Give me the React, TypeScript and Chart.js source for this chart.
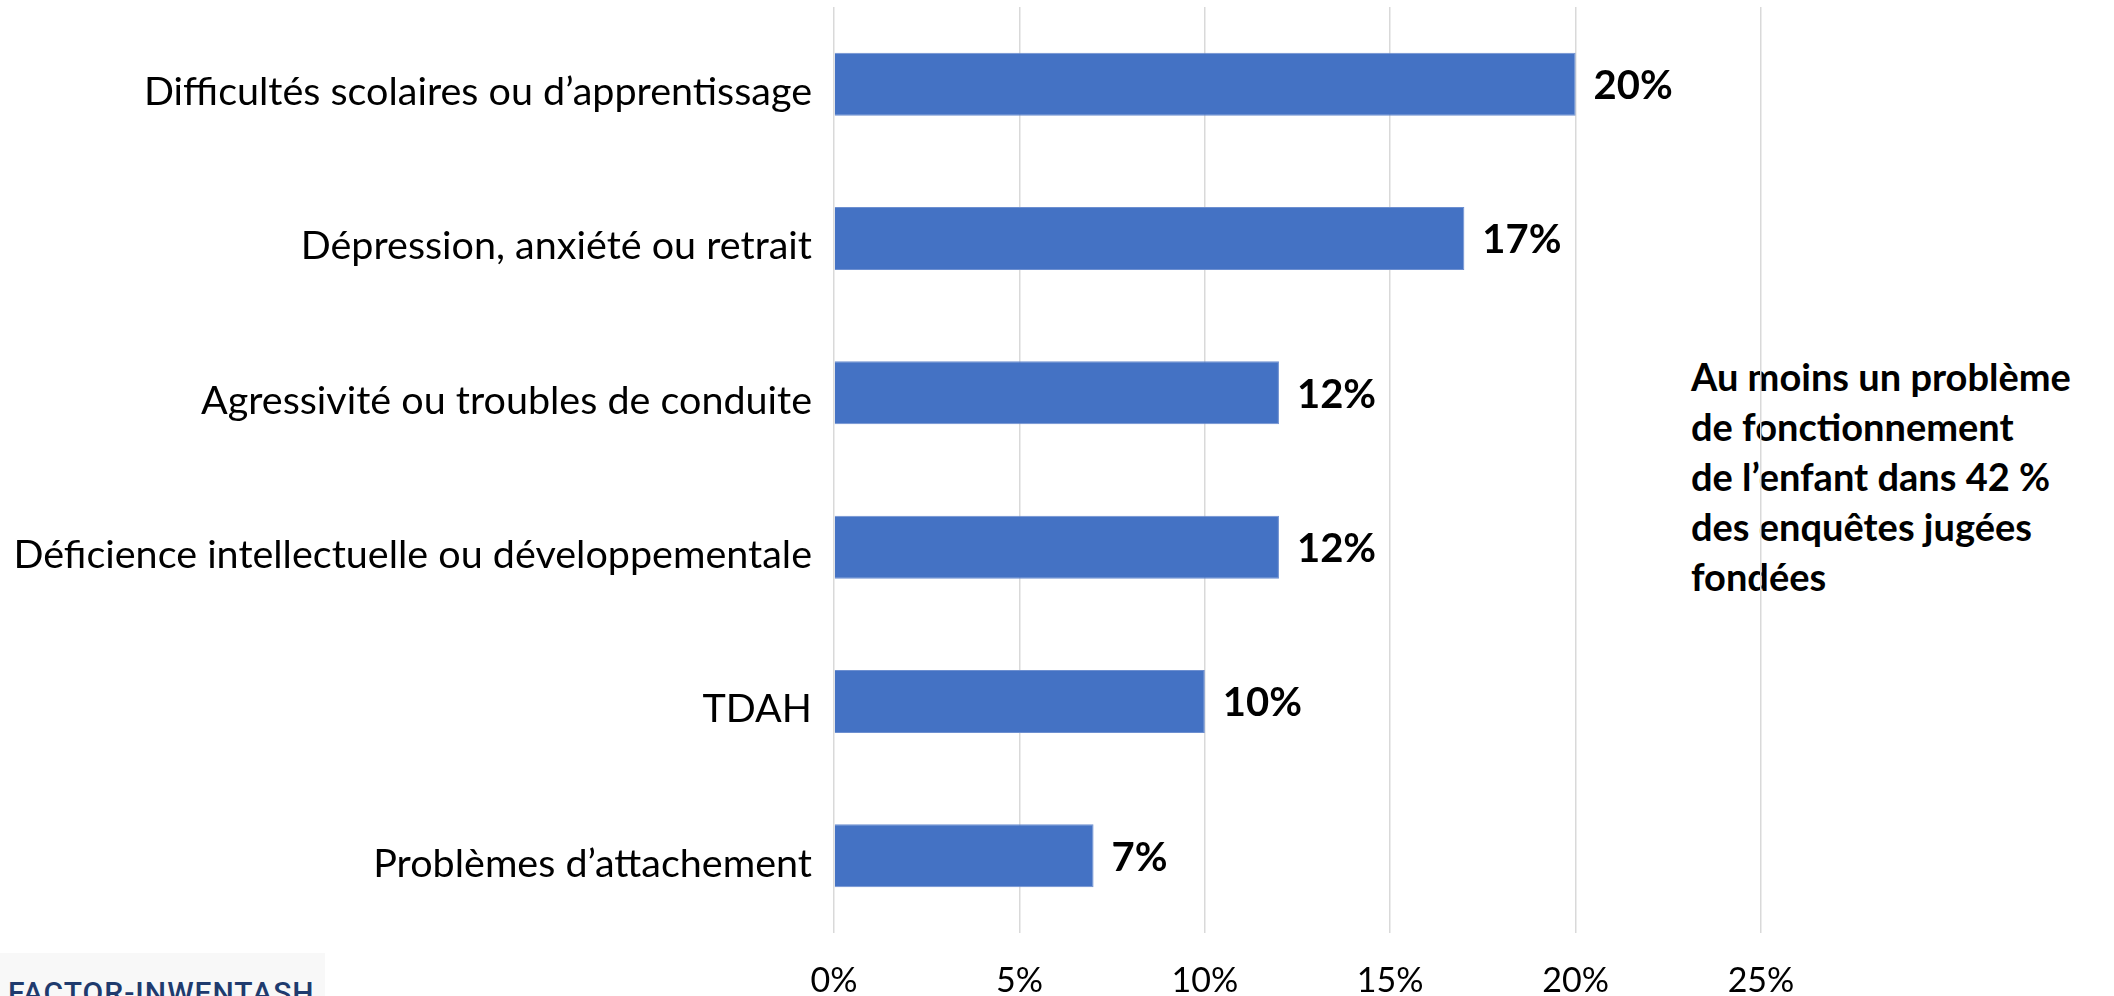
import React, { useEffect, useRef } from "react";
import { Chart, registerables } from "chart.js";

Chart.register(...registerables);

const categories = [
  "Difficultés scolaires ou d’apprentissage",
  "Dépression, anxiété ou retrait",
  "Agressivité ou troubles de conduite",
  "Déficience intellectuelle ou développementale",
  "TDAH",
  "Problèmes d’attachement",
];
const values = [20, 17, 12, 12, 10, 7];
const xTicks = [0, 5, 10, 15, 20, 25];
const annotationLines = [
  "Au moins un problème",
  "de fonctionnement",
  "de l’enfant dans 42 %",
  "des enquêtes jugées",
  "fondées",
];
const logoText = "FACTOR-INWENTASH";

const FONT = "Lato, 'Noto Sans', sans-serif";

const valueLabels = {
  id: "valueLabels",
  afterDatasetsDraw(chart: any) {
    const ctx = chart.ctx;
    const meta = chart.getDatasetMeta(0);
    ctx.save();
    ctx.font = `bold 40px ${FONT}`;
    ctx.fillStyle = "#000";
    ctx.textAlign = "left";
    ctx.textBaseline = "middle";
    meta.data.forEach((bar: any, i: number) => {
      ctx.fillText(`${values[i]}%`, bar.x + 18, bar.y + 2);
    });
    ctx.restore();
  },
};

export default function App() {
  const ref = useRef<HTMLCanvasElement | null>(null);
  useEffect(() => {
    if (!ref.current) return;
    const chart = new Chart(ref.current, {
      type: "bar",
      data: {
        labels: categories,
        datasets: [
          {
            data: values,
            backgroundColor: "#4472C4",
            borderColor: "#6d8fd0",
            borderWidth: 1,
            categoryPercentage: 1,
            barPercentage: 0.408,
          },
        ],
      },
      options: {
        indexAxis: "y",
        animation: false,
        responsive: true,
        maintainAspectRatio: false,
        layout: { padding: { top: 7, right: 353, left: 0, bottom: 0 } },
        plugins: {
          legend: { display: false },
          tooltip: { enabled: false },
        },
        scales: {
          x: {
            min: 0,
            max: 25,
            afterBuildTicks: (scale: any) => {
              scale.ticks = xTicks.map((v) => ({ value: v }));
            },
            afterFit: (scale: any) => {
              scale.height = 63;
            },
            grid: { color: "#d9d9d9", lineWidth: 1.5, drawTicks: false },
            border: { display: false },
            ticks: {
              padding: 28,
              color: "#000",
              font: { family: FONT, size: 34 },
              callback: (v: any) => `${v}%`,
            },
          },
          y: {
            afterFit: (scale: any) => {
              scale.width = 834;
              scale.paddingTop = 0;
              scale.paddingBottom = 0;
            },
            grid: { display: false, drawTicks: false },
            border: { display: false },
            ticks: {
              padding: 22,
              labelOffset: 8,
              color: "#000",
              font: { family: FONT, size: 39.5 },
            },
          },
        },
      },
      plugins: [valueLabels],
    });
    return () => chart.destroy();
  }, []);

  return (
    <div
      style={{
        position: "fixed",
        left: 0,
        top: 0,
        width: 2114,
        height: 996,
        background: "#fff",
        overflow: "hidden",
      }}
    >
      <div
        style={{
          position: "absolute",
          left: 1691,
          top: 351,
          fontFamily: FONT,
          fontWeight: 700,
          fontSize: 38,
          lineHeight: "50px",
          color: "#000",
          whiteSpace: "nowrap",
        }}
      >
        {annotationLines.map((l, i) => (
          <div key={i}>{l}</div>
        ))}
      </div>
      <div
        style={{
          position: "absolute",
          left: 0,
          top: 953,
          width: 325,
          height: 43,
          background: "#f8f8f8",
          overflow: "hidden",
        }}
      >
        <div
          style={{
            position: "absolute",
            left: 8,
            top: 25,
            fontFamily: "Roboto, 'Noto Sans', sans-serif",
            fontWeight: 500,
            fontSize: 30,
            lineHeight: "30px",
            letterSpacing: 1,
            color: "#1f3b6e",
            whiteSpace: "nowrap",
          }}
        >
          {logoText}
        </div>
      </div>
      <div style={{ position: "absolute", left: 0, top: 0, width: 2114, height: 996 }}>
        <canvas ref={ref} />
      </div>
    </div>
  );
}
